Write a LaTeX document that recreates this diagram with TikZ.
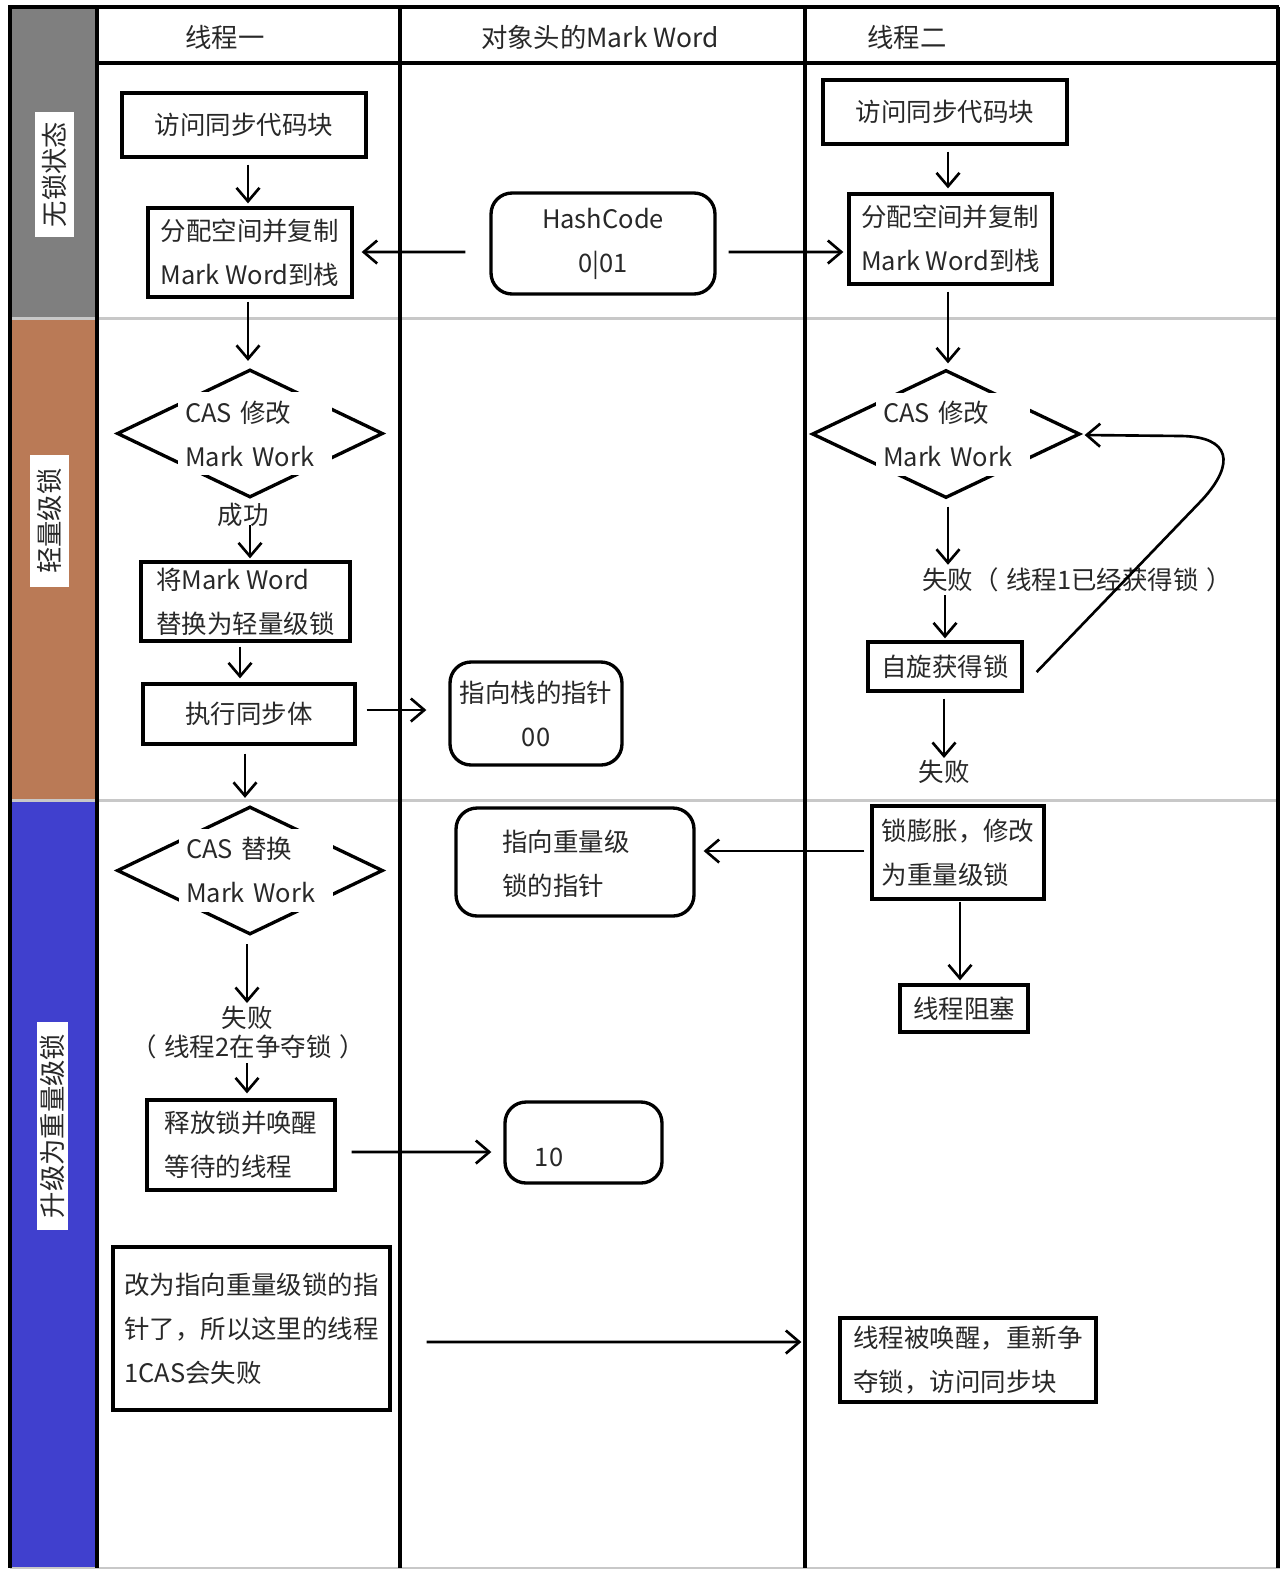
\documentclass[tikz,border=0pt]{standalone}
\usepackage{fontspec}
\newfontfamily\cjk{Noto Sans CJK SC}
\usetikzlibrary{arrows.meta,shapes.geometric,calc}
\definecolor{bandgray}{RGB}{127,127,127}
\definecolor{bandbrown}{RGB}{186,122,86}
\definecolor{bandblue}{RGB}{64,64,206}
\definecolor{sepgray}{RGB}{200,200,200}
\definecolor{txt}{RGB}{40,40,40}
\begin{document}
\begin{tikzpicture}[x=0.02cm,y=-0.02cm,
  font=\cjk\fontsize{14.5}{25}\selectfont, text=txt,
  box/.style={draw=black, line width=1.9pt, inner sep=0pt},
  rbox/.style={box, rounded corners=0.42cm},
  dia/.style={draw=black, diamond, line width=1.9pt, inner sep=0pt, minimum width=5.32cm, minimum height=2.56cm},
  diatext/.style={fill=white, inner sep=0pt, minimum width=3.1cm, minimum height=1.66cm, align=left, text width=2.8cm},
  arr/.style={line width=1.5pt, -{Straight Barb[length=0.27cm,width=0.46cm,line width=1.5pt]}},
  lbl/.style={inner sep=1pt},
  bandlbl/.style={fill=white, rotate=90, inner sep=0pt, font=\cjk\fontsize{15}{15}\selectfont},
  hdr/.style={inner sep=1pt, font=\cjk\fontsize{15}{15}\selectfont},
  grid/.style={line width=2.4pt, black},
]
\useasboundingbox (0,0) rectangle (1281,1570);
\fill[white] (0,0) rectangle (1281,1570);
% bands
\fill[bandgray] (12,8) rectangle (96,318);
\fill[bandbrown] (12,318) rectangle (96,800);
\fill[bandblue] (12,800) rectangle (96,1568);
% separators
\draw[sepgray, line width=1.7pt] (10,318) -- (1280,318);
\draw[sepgray, line width=1.7pt] (10,800) -- (1280,800);
\draw[sepgray, line width=0.8pt] (10,1568) -- (1280,1568);
% grid
\draw[grid] (8,7) -- (1279,7);
\draw[grid] (10,5) -- (10,1568);
\draw[grid] (97,7) -- (97,1568);
\draw[grid] (400,7) -- (400,1568);
\draw[grid] (805,7) -- (805,1568);
\draw[line width=1.8pt] (1278,7) -- (1278,1568);
\draw[grid] (97,63) -- (1278,63);
% band labels
\node[bandlbl, minimum width=2.5cm, minimum height=0.78cm] (L1) at (54.5,174.5) {无锁状态};
\node[bandlbl, minimum width=2.64cm, minimum height=0.78cm] (L2) at (49.5,521) {轻量级锁};
\node[bandlbl, minimum width=4.16cm, minimum height=0.62cm] (L3) at (52.5,1126) {升级为重量级锁};
% headers
\node[hdr] (h1) at (225,37) {线程一};
\node[hdr] (h2) at (600,37) {对象头的Mark Word};
\node[hdr] (h3) at (907,37) {线程二};
% nodes
\node[box, minimum width=4.88cm, minimum height=1.28cm] (A1) at (244,125) {访问同步代码块};
\node[box, align=left, minimum width=4.08cm, minimum height=1.78cm] (A2) at (250,252.5) {分配空间并复制\\Mark Word到栈};
\node[rbox, align=center, minimum width=4.48cm, minimum height=2.02cm] (H) at (603,243.5) {HashCode\\0|01};
\node[box, minimum width=4.88cm, minimum height=1.28cm] (B1) at (945,112) {访问同步代码块};
\node[box, align=left, minimum width=4.06cm, minimum height=1.8cm] (B2) at (950.5,239) {分配空间并复制\\Mark Word到栈};
\node[dia] (D1) at (250,433.5) {};
\node[diatext] (D1t) at (255,433.5) {CAS 修改\\Mark Work};
\node[lbl] (S1) at (243,515) {成功};
\node[box, align=left, minimum width=4.18cm, minimum height=1.58cm] (A3) at (245.5,601.5) {将Mark Word\\替换为轻量级锁};
\node[box, minimum width=4.24cm, minimum height=1.2cm] (A4) at (249,714) {执行同步体};
\node[rbox, align=center, minimum width=3.44cm, minimum height=2.06cm] (P1) at (536,713.5) {指向栈的指针\\00};
\node[dia] (D2) at (250,870.5) {};
\node[diatext] (D2t) at (256,870) {CAS 替换\\Mark Work};
\node[lbl] (F2a) at (247,1018) {失败};
\node[lbl] (F2b) at (248,1047) {（\hspace{0.3em}线程2在争夺锁\hspace{0.3em}）};
\node[box, align=left, minimum width=3.76cm, minimum height=1.8cm] (A5) at (241,1145) {释放锁并唤醒\\等待的线程};
\node[rbox, minimum width=3.14cm, minimum height=1.62cm] (T10) at (583.5,1142.5) {};
\node[lbl] (T10t) at (549,1157) {10};
\node[box, align=left, minimum width=5.54cm, minimum height=3.26cm] (A6) at (251.5,1328.5) {改为指向重量级锁的指\\针了，所以这里的线程\\1CAS会失败};
\node[box, align=left, minimum width=5.12cm, minimum height=1.68cm] (B7) at (968,1360) {线程被唤醒，重新争\\夺锁，访问同步块};
\node[dia, minimum width=5.36cm] (D3) at (946,434) {};
\node[diatext] (D3t) at (953,434) {CAS 修改\\Mark Work};
\node[lbl, anchor=west] (F1) at (920,580) {失败（\hspace{0.3em}线程1已经获得锁\hspace{0.3em}）};
\node[box, minimum width=3.08cm, minimum height=0.98cm] (B3) at (945,666.5) {自旋获得锁};
\node[lbl] (S3) at (944,772) {失败};
\node[box, align=left, minimum width=3.44cm, minimum height=1.86cm] (B4) at (958,852.5) {锁膨胀，修改\\为重量级锁};
\node[rbox, minimum width=4.76cm, minimum height=2.16cm] (P2) at (575,862) {};
\node[lbl, anchor=west, align=left] (P2t) at (500,864) {指向重量级\\锁的指针};
\node[box, minimum width=2.56cm, minimum height=0.94cm] (B5) at (964,1008.5) {线程阻塞};
% arrows
\draw[arr] ($(A1.south)+(4,6)$) -- ($(A2.north)+(-2,-3)$);
\draw[arr] ($(B1.south)+(3,6)$) -- ($(B2.north)+(-2.5,-4)$);
\draw[arr] ($(H.west)+(-24,8.5)$) -- ($(A2.east)+(8,-0.5)$);
\draw[arr] ($(H.east)+(12,8.5)$) -- ($(B2.west)+(-4,13)$);
\draw[arr] ($(A2.south)+(-2,3)$) -- ($(D1.north)+(-2,-7)$);
\draw[arr] ($(A3.north)+(4.5,-35)$) -- ($(A3.north)+(4.5,-2)$);
\draw[arr] ($(A3.south)+(-5.5,4)$) -- ($(A4.north)+(-9,-4)$);
\draw[arr] ($(A4.east)+(10,-4)$) -- ($(P1.west)+(-22,-3.5)$);
\draw[arr] ($(A4.south)+(-4,8)$) -- ($(D2.north)+(-5,-7)$);
\draw[arr] ($(D2.south)+(-3,8)$) -- ($(F2a.center)+(0,-15)$);
\draw[arr] ($(F2b.center)+(-1,16)$) -- ($(A5.north)+(6,-5)$);
\draw[arr] ($(A5.east)+(15,7)$) -- ($(T10.west)+(-12,9.5)$);
\draw[arr] ($(A6.east)+(35,13.5)$) -- ($(B7.west)+(-37,-18)$);
\draw[arr] ($(B2.south)+(-2.5,6)$) -- ($(D3.north)+(2,-5)$);
\draw[arr] ($(D3.south)+(2,7)$) -- ($(D3.south |- F1.north)+(2,-1)$);
\draw[arr] ($(B3.north |- F1.south)+(0,1)$) -- ($(B3.north)+(0,-2)$);
\draw[arr] ($(B3.south)+(-1,6)$) -- ($(S3.center)+(0,-14)$);
\draw[arr] ($(B4.west)+(-6,-1.5)$) -- ($(P2.east)+(8,-11)$);
\draw[arr] ($(B4.south)+(2,1)$) -- ($(B5.north)+(-4,-3)$);
\coordinate (loopA) at (1202,500);
\coordinate (loopB) at (1182,436);
\draw[arr] ($(B3.east)+(13,5.5)$) -- (loopA) .. controls (1236,463) and (1230,437) .. (loopB) -- ($(D3.east)+(3,1)$);
\end{tikzpicture}
\end{document}
